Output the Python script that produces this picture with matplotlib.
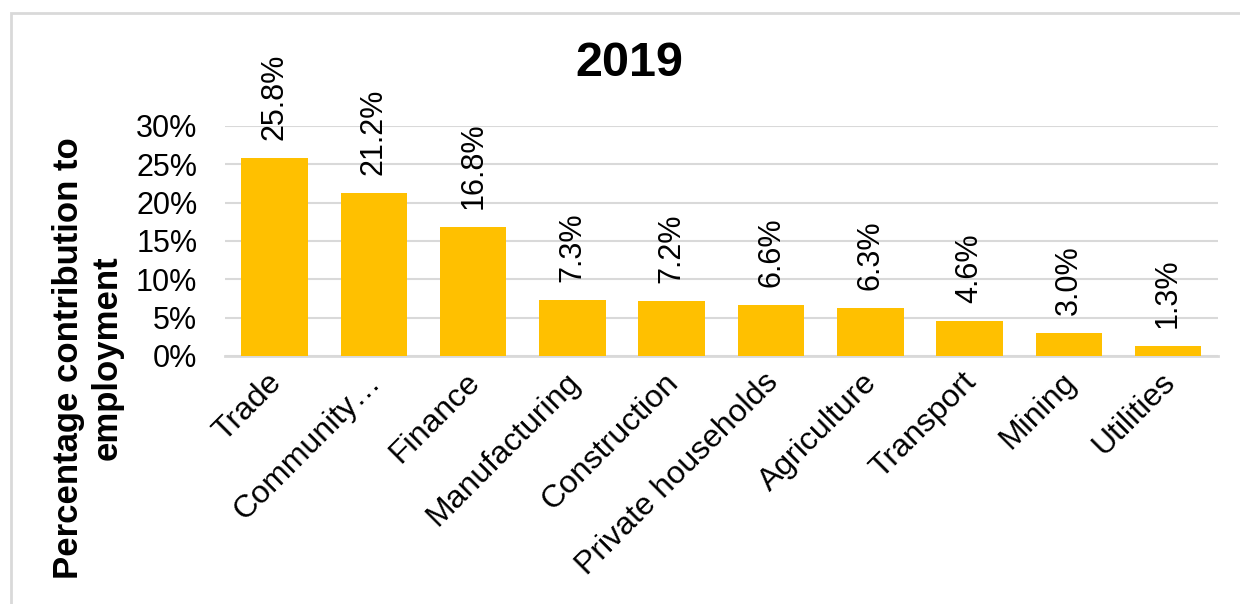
import matplotlib
matplotlib.use("Agg")
import matplotlib.pyplot as plt
import matplotlib.transforms as mtransforms
from matplotlib.patches import Rectangle
from matplotlib.ticker import PercentFormatter

plt.rcParams['font.family'] = ['Liberation Sans', 'DejaVu Sans']

# data
sectors = ['Trade', 'Community\u2026', 'Finance', 'Manufacturing', 'Construction',
           'Private households', 'Agriculture', 'Transport', 'Mining', 'Utilities']
share = [25.8, 21.2, 16.8, 7.3, 7.2, 6.6, 6.3, 4.6, 3.0, 1.3]
yticks = [0, 5, 10, 15, 20, 25, 30]

BAR_COLOR = '#FFC000'
GRID_COLOR = '#D9D9D9'

fig = plt.figure(figsize=(12.4, 6.04), dpi=100)
ax = fig.add_axes([0.1815, 0.4106, 0.8005, 0.3808])

x = list(range(len(sectors)))
bars = ax.bar(x, share, width=0.67, color=BAR_COLOR, zorder=3)

for xi, v in zip(x, share):
    ax.annotate(f'{v:.1f}%', xy=(xi, v), xytext=(0, 13), textcoords='offset points',
                rotation=90, ha='center', va='bottom', fontsize=22, annotation_clip=False)

ax.set_xlim(-0.5, len(sectors) - 0.5)
ax.set_ylim(0, 30)
ax.set_yticks(yticks)
ax.yaxis.set_major_formatter(PercentFormatter(decimals=0))
ax.set_xticks(x)
ax.set_xticklabels(sectors, rotation=45, ha='right', va='top', rotation_mode='anchor')
ax.tick_params(axis='y', length=0, pad=20, labelsize=22)
ax.tick_params(axis='x', length=0, pad=8, labelsize=23)

# nudge category labels a little to the left
shift = mtransforms.ScaledTranslation(-8 / 100, 0, fig.dpi_scale_trans)
for lbl in ax.get_xticklabels():
    lbl.set_transform(lbl.get_transform() + shift)

ax.grid(axis='y', color=GRID_COLOR, linewidth=1.5, zorder=0)
for s in ['top', 'right', 'left']:
    ax.spines[s].set_visible(False)
ax.spines['bottom'].set_color(GRID_COLOR)
ax.spines['bottom'].set_linewidth(2)

fig.text(629 / 1240, 1 - 63 / 604, '2019', fontsize=35, fontweight='bold',
         ha='center', va='center')
fig.text(88 / 1240, 1 - 358 / 604, 'Percentage contribution to\nemployment',
         fontsize=25, fontweight='bold', rotation=90, ha='center', va='center',
         multialignment='center')

# chart border
fig.patches.append(Rectangle((11 / 1240, -0.1), 1.2, 1.1 - 13 / 604,
                             transform=fig.transFigure, fill=False,
                             edgecolor=GRID_COLOR, linewidth=2))

fig.savefig('out.png', dpi=100)
